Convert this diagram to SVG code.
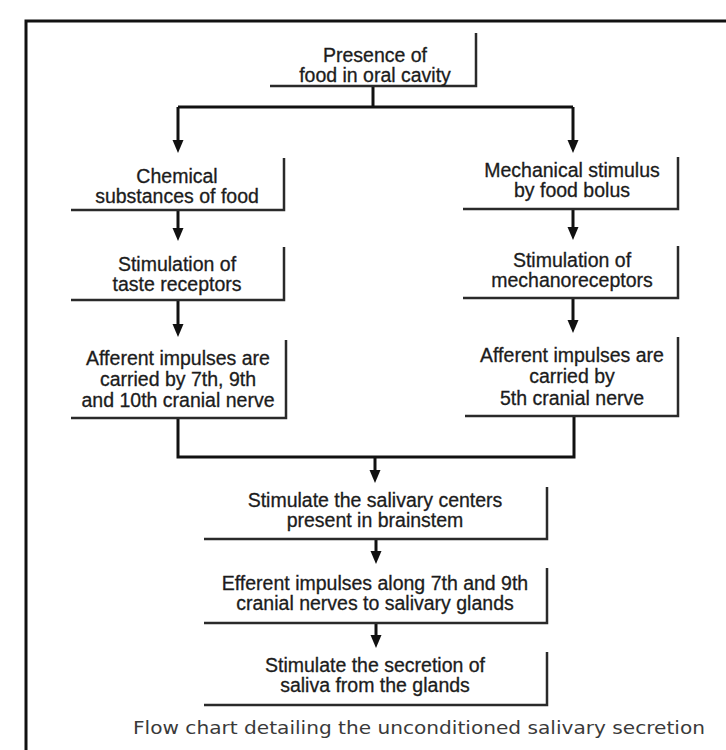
<svg xmlns="http://www.w3.org/2000/svg" width="726" height="750" viewBox="0 0 726 750">
<style>
.bg{fill:#ffffff}
.frame{fill:none;stroke:#111;stroke-width:3}
.box{fill:none;stroke:#2a2a2a;stroke-width:2.5}
.conn{fill:none;stroke:#111;stroke-width:3}
.t{font-family:"Liberation Sans",Arial,sans-serif;font-size:19.5px;fill:#1c1c1c;stroke:#1c1c1c;stroke-width:0.3;text-anchor:middle}
.cap{font-family:"DejaVu Sans","Liberation Sans",sans-serif;font-size:17px;fill:#3a3a3a}
</style>
<defs>
<marker id="arr" markerUnits="userSpaceOnUse" viewBox="0 -6 14 12" markerWidth="14" markerHeight="12" refX="3" refY="0" orient="auto">
<path d="M0,-5.5 L13,0 L0,5.5 z" fill="#111"/>
</marker>
</defs>
<rect class="bg" x="0" y="0" width="726" height="750"/>
<path class="frame" d="M26,750 V21 H726"/>

<g id="connectors">
<path class="conn" d="M373,86 V107"/>
<path class="conn" d="M178,107 H573"/>
<path class="conn" d="M178,107 V143" marker-end="url(#arr)"/>
<path class="conn" d="M573,107 V143" marker-end="url(#arr)"/>
<path class="conn" d="M178,210 V231" marker-end="url(#arr)"/>
<path class="conn" d="M178,300 V327" marker-end="url(#arr)"/>
<path class="conn" d="M573,209 V230" marker-end="url(#arr)"/>
<path class="conn" d="M573,298 V323" marker-end="url(#arr)"/>
<path class="conn" d="M178,418 V457 H574 V416"/>
<path class="conn" d="M375,457 V473" marker-end="url(#arr)"/>
<path class="conn" d="M376,539 V554" marker-end="url(#arr)"/>
<path class="conn" d="M376,623 V638" marker-end="url(#arr)"/>
</g>

<g id="n_presence">
<path class="box" d="M476,33 V86 H270"/>
<text class="t" x="375" y="62">Presence of</text>
<text class="t" x="375" y="82">food in oral cavity</text>
</g>

<g id="n_chemical">
<path class="box" d="M284,158 V210 H71"/>
<text class="t" x="177" y="183">Chemical</text>
<text class="t" x="177" y="203">substances of food</text>
</g>

<g id="n_taste">
<path class="box" d="M284,247 V300 H71"/>
<text class="t" x="177" y="271">Stimulation of</text>
<text class="t" x="177" y="291">taste receptors</text>
</g>

<g id="n_aff_left">
<path class="box" d="M286,340 V418 H71"/>
<text class="t" x="178" y="365">Afferent impulses are</text>
<text class="t" x="178" y="386">carried by 7th, 9th</text>
<text class="t" x="178" y="407">and 10th cranial nerve</text>
</g>

<g id="n_mechanical">
<path class="box" d="M678,157 V209 H463"/>
<text class="t" x="572" y="177">Mechanical stimulus</text>
<text class="t" x="572" y="197">by food bolus</text>
</g>

<g id="n_mechano">
<path class="box" d="M678,246 V298 H463"/>
<text class="t" x="572" y="267">Stimulation of</text>
<text class="t" x="572" y="287">mechanoreceptors</text>
</g>

<g id="n_aff_right">
<path class="box" d="M678,337 V416 H465"/>
<text class="t" x="572" y="362">Afferent impulses are</text>
<text class="t" x="572" y="383">carried by</text>
<text class="t" x="572" y="405">5th cranial nerve</text>
</g>

<g id="n_centers">
<path class="box" d="M547,487 V539 H204"/>
<text class="t" x="375" y="507">Stimulate the salivary centers</text>
<text class="t" x="375" y="527">present in brainstem</text>
</g>

<g id="n_efferent">
<path class="box" d="M547,568 V623 H204"/>
<text class="t" x="375" y="590">Efferent impulses along 7th and 9th</text>
<text class="t" x="375" y="610">cranial nerves to salivary glands</text>
</g>

<g id="n_secretion">
<path class="box" d="M547,652 V705 H204"/>
<text class="t" x="375" y="672">Stimulate the secretion of</text>
<text class="t" x="375" y="692">saliva from the glands</text>
</g>

<text class="cap" x="133" y="734" textLength="572" lengthAdjust="spacingAndGlyphs">Flow chart detailing the unconditioned salivary secretion</text>
</svg>
